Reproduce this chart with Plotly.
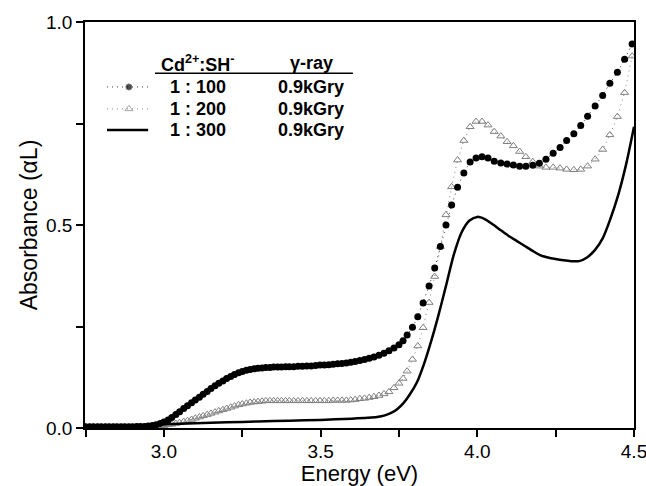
import plotly.graph_objects as go

# Photon energy grid shared by the two sampled spectra (eV)
energy_ev = [
    2.750, 2.763, 2.775, 2.788, 2.800, 2.813, 2.825, 2.838, 2.850, 2.863,
    2.875, 2.888, 2.900, 2.913, 2.925, 2.938, 2.950, 2.963, 2.975, 2.988,
    3.000, 3.013, 3.025, 3.038, 3.050, 3.063, 3.075, 3.088, 3.100, 3.113,
    3.125, 3.138, 3.150, 3.163, 3.175, 3.188, 3.200, 3.213, 3.225, 3.238,
    3.250, 3.263, 3.275, 3.288, 3.300, 3.313, 3.325, 3.338, 3.350, 3.363,
    3.375, 3.388, 3.400,
    3.414, 3.428, 3.442, 3.456, 3.470, 3.484, 3.498, 3.512, 3.526, 3.540,
    3.554, 3.568, 3.582, 3.596, 3.610, 3.625, 3.640, 3.655, 3.670, 3.686,
    3.702, 3.718, 3.734, 3.750, 3.763,
    3.776, 3.793, 3.810, 3.827, 3.846, 3.864, 3.882, 3.900, 3.918, 3.937,
    3.957, 3.977, 3.996, 4.015, 4.034, 4.054, 4.075, 4.095, 4.115, 4.135,
    4.155, 4.177, 4.198, 4.219, 4.242, 4.264, 4.285, 4.308, 4.330, 4.352,
    4.376, 4.400, 4.423, 4.447, 4.470, 4.494,
]

# Cd2+:SH- = 1:100, 0.9 kGy
abs_1_100 = [
    0.003, 0.003, 0.003, 0.003, 0.003, 0.003, 0.003, 0.003, 0.003, 0.003,
    0.003, 0.003, 0.003, 0.004, 0.004, 0.004, 0.005, 0.006, 0.008, 0.011,
    0.015, 0.020, 0.026, 0.033, 0.040, 0.048, 0.055, 0.062, 0.069, 0.076,
    0.083, 0.090, 0.097, 0.104, 0.110, 0.116, 0.122, 0.127, 0.132, 0.136,
    0.139, 0.142, 0.144, 0.146, 0.147, 0.148, 0.149, 0.149, 0.150, 0.150,
    0.150, 0.151, 0.151,
    0.151, 0.152, 0.152, 0.153, 0.153, 0.154, 0.155, 0.155, 0.156, 0.157,
    0.158, 0.159, 0.160, 0.162, 0.164, 0.166, 0.169, 0.172, 0.175, 0.179,
    0.184, 0.190, 0.197, 0.205, 0.215,
    0.229, 0.248, 0.274, 0.308, 0.350, 0.394, 0.447, 0.500, 0.549, 0.593,
    0.628, 0.655, 0.665, 0.668, 0.665, 0.657, 0.653, 0.650, 0.648, 0.645,
    0.645, 0.647, 0.652, 0.662, 0.677, 0.691, 0.708, 0.725, 0.745, 0.768,
    0.793, 0.819, 0.849, 0.876, 0.908, 0.946,
]

# Cd2+:SH- = 1:200, 0.9 kGy
abs_1_200 = [
    0.002, 0.002, 0.002, 0.002, 0.002, 0.002, 0.002, 0.002, 0.002, 0.002,
    0.002, 0.002, 0.002, 0.002, 0.002, 0.002, 0.002, 0.003, 0.004, 0.005,
    0.006, 0.008, 0.009, 0.011, 0.013, 0.016, 0.018, 0.021, 0.024, 0.027,
    0.030, 0.033, 0.036, 0.039, 0.042, 0.045, 0.048, 0.051, 0.054, 0.057,
    0.059, 0.061, 0.063, 0.064, 0.065, 0.066, 0.067, 0.067, 0.067, 0.067,
    0.067, 0.067, 0.067,
    0.067, 0.067, 0.067, 0.067, 0.067, 0.067, 0.067, 0.067, 0.067, 0.068,
    0.068, 0.068, 0.068, 0.069, 0.070, 0.072, 0.073, 0.075, 0.077, 0.080,
    0.084, 0.089, 0.099, 0.110, 0.122,
    0.140, 0.169, 0.202, 0.247, 0.309, 0.373, 0.447, 0.525, 0.594, 0.660,
    0.708, 0.742, 0.755, 0.755, 0.746, 0.730, 0.719, 0.705, 0.695, 0.681,
    0.668, 0.656, 0.645, 0.642, 0.642, 0.640, 0.637, 0.636, 0.637, 0.645,
    0.662, 0.686, 0.722, 0.767, 0.826, 0.916,
]

# Cd2+:SH- = 1:300, 0.9 kGy (continuous trace)
energy_line_ev = [
    2.750, 2.850, 2.950, 3.000, 3.100, 3.200, 3.300, 3.400, 3.500, 3.600,
    3.650, 3.680, 3.705, 3.725, 3.745, 3.765, 3.785, 3.807, 3.830, 3.852,
    3.875, 3.900, 3.925, 3.950, 3.975, 4.000, 4.025, 4.050, 4.075, 4.100,
    4.125, 4.150, 4.175, 4.200, 4.225, 4.250, 4.275, 4.300, 4.325, 4.350,
    4.375, 4.400, 4.425, 4.450, 4.475, 4.500,
]
abs_1_300 = [
    0.004, 0.005, 0.007, 0.009, 0.012, 0.014, 0.016, 0.018, 0.020, 0.023,
    0.025, 0.027, 0.031, 0.037, 0.047, 0.062, 0.083, 0.112, 0.158, 0.212,
    0.275, 0.350, 0.427, 0.482, 0.511, 0.520, 0.514, 0.501, 0.487, 0.473,
    0.461, 0.449, 0.437, 0.426, 0.420, 0.416, 0.413, 0.411, 0.411, 0.420,
    0.438, 0.467, 0.516, 0.575, 0.650, 0.742,
]

ratio_labels = ["1 : 100", "1 : 200", "1 : 300"]
dose_labels = ["0.9kGry", "0.9kGry", "0.9kGry"]
header_labels = ["Cd<sup>2+</sup>:SH<sup>-</sup>", "γ-ray"]

x_range = [2.748, 4.5]
y_range = [0.0, 1.0]
x_ticks = [3.0, 3.5, 4.0, 4.5]
y_ticks = [0.0, 0.5, 1.0]

FONT = "Liberation Sans, Arial, Helvetica, sans-serif"
TRI_GRAY = "#808080"
SPARSE_DOT = "1px,4px"

fig = go.Figure()

fig.add_trace(go.Scatter(
    x=energy_ev, y=abs_1_200, mode="lines+markers",
    line=dict(color=TRI_GRAY, width=1, dash=SPARSE_DOT),
    marker=dict(symbol="triangle-up-open", size=7, color=TRI_GRAY,
                line=dict(width=1, color=TRI_GRAY)),
    showlegend=False,
))
fig.add_trace(go.Scatter(
    x=energy_ev, y=abs_1_100, mode="lines+markers",
    line=dict(color="#333333", width=1, dash=SPARSE_DOT),
    marker=dict(symbol="circle", size=7, color="black"),
    showlegend=False,
))
fig.add_trace(go.Scatter(
    x=energy_line_ev, y=abs_1_300, mode="lines",
    line=dict(color="black", width=2.5, shape="spline", smoothing=0.8),
    showlegend=False,
))

# Legend table: sample glyphs on an overlay axis spanning the plot area
sample_x = [0.040, 0.080, 0.115]
row_y = [0.840, 0.786, 0.734]
fig.add_trace(go.Scatter(
    x=sample_x, y=[row_y[0]] * 3, mode="lines+markers", xaxis="x2", yaxis="y2",
    line=dict(color="#333333", width=1, dash=SPARSE_DOT),
    marker=dict(symbol="circle", size=[0, 6, 0], color="black"),
    showlegend=False, hoverinfo="skip",
))
fig.add_trace(go.Scatter(
    x=sample_x, y=[row_y[1]] * 3, mode="lines+markers", xaxis="x2", yaxis="y2",
    line=dict(color=TRI_GRAY, width=1, dash=SPARSE_DOT),
    marker=dict(symbol="triangle-up-open", size=[0, 7, 0], color=TRI_GRAY,
                line=dict(width=1, color=TRI_GRAY)),
    showlegend=False, hoverinfo="skip",
))
fig.add_trace(go.Scatter(
    x=[sample_x[0], sample_x[2]], y=[row_y[2]] * 2, mode="lines",
    xaxis="x2", yaxis="y2",
    line=dict(color="black", width=2.5),
    showlegend=False, hoverinfo="skip",
))

annotations = []
col_x = [0.206, 0.412]
header_y = 0.899
for cx, txt in zip(col_x, header_labels):
    annotations.append(dict(
        x=cx, y=header_y, xref="paper", yref="paper", text=f"<b>{txt}</b>",
        showarrow=False, xanchor="center", yanchor="middle",
        font=dict(family=FONT, size=18, color="black"),
    ))
for ry, r_lab, d_lab in zip(row_y, ratio_labels, dose_labels):
    annotations.append(dict(
        x=col_x[0], y=ry, xref="paper", yref="paper", text=f"<b>{r_lab}</b>",
        showarrow=False, xanchor="center", yanchor="middle",
        font=dict(family=FONT, size=18, color="black"),
    ))
    annotations.append(dict(
        x=col_x[1], y=ry, xref="paper", yref="paper", text=f"<b>{d_lab}</b>",
        showarrow=False, xanchor="center", yanchor="middle",
        font=dict(family=FONT, size=18, color="black"),
    ))

shapes = [dict(
    type="line", xref="paper", yref="paper",
    x0=0.1275, x1=0.488, y0=0.874, y1=0.874,
    line=dict(color="black", width=1.5),
)]

axis_common = dict(
    showgrid=False, zeroline=False, showline=True, linecolor="black",
    linewidth=1.5, mirror=True, ticks="outside", ticklen=7, tickwidth=1.5,
    tickcolor="black", tickformat=".1f", automargin=False,
    ticklabeloverflow="allow",
    tickfont=dict(family=FONT, size=19, color="black"),
)

fig.update_layout(
    width=646, height=486,
    margin=dict(l=85, r=12, t=22, b=58, autoexpand=False),
    paper_bgcolor="white", plot_bgcolor="white",
    font=dict(family=FONT, color="black"),
    xaxis=dict(
        range=x_range, tickvals=x_ticks,
        minor=dict(dtick=0.25, tick0=0, ticks="outside", ticklen=7,
                   tickwidth=1.5, tickcolor="black"),
        ticklabelstandoff=-2,
        title=dict(text="Energy (eV)", font=dict(family=FONT, size=22),
                   standoff=4),
        **axis_common,
    ),
    yaxis=dict(
        range=y_range, tickvals=y_ticks,
        minor=dict(dtick=0.25, tick0=0, ticks="outside", ticklen=7,
                   tickwidth=1.5, tickcolor="black"),
        title=dict(text="Absorbance (αL)", font=dict(family=FONT, size=23),
                   standoff=2),
        **axis_common,
    ),
    xaxis2=dict(range=[0, 1], overlaying="x", visible=False, fixedrange=True),
    yaxis2=dict(range=[0, 1], overlaying="y", visible=False, fixedrange=True),
    annotations=annotations,
    shapes=shapes,
    showlegend=False,
)

fig.write_html("out.html")
